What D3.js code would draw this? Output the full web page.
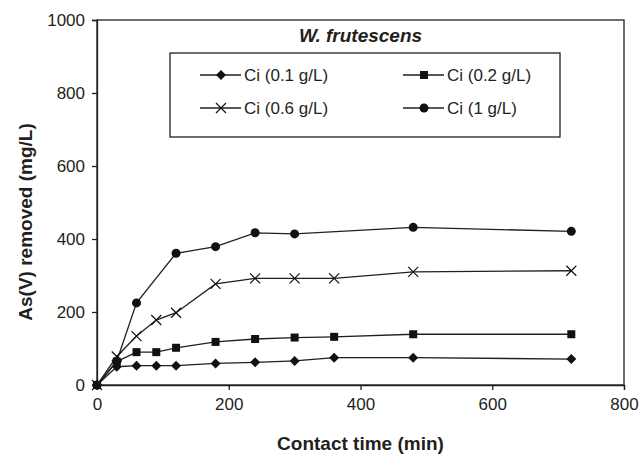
<!DOCTYPE html>
<html>
<head>
<meta charset="utf-8">
<script src="https://cdnjs.cloudflare.com/ajax/libs/d3/7.8.5/d3.min.js"></script>
<style>
	body { margin: 0; background: #fff; }
	text { font-family: "Liberation Sans", Arial, sans-serif; fill: #231f20; }
</style>
</head>
<body>
<svg id="contactGraph"></svg>
<script>
// contact time (min) and As(V) removed (mg/L) for each initial concentration
var times     = [0, 30, 60, 90, 120, 180, 240, 300, 360, 480, 720];
var ci01      = [0, 50, 53, 53, 53, 59, 62, 66, 75, 75, 71];
var ci02      = [0, 64, 90, 90, 102, 118, 126, 130, 132, 139, 139];
var ci06      = [0, 78, 134, 178, 198, 277, 292, 292, 292, 310, 313];
var ci1Times  = [0, 30, 60, 120, 180, 240, 300, 480, 720];
var ci1       = [0, 65, 225, 361, 379, 417, 414, 432, 421];
var seriesNames = ["Ci (0.1 g/L)", "Ci (0.2 g/L)", "Ci (0.6 g/L)", "Ci (1 g/L)"];
var xTicks = [0, 200, 400, 600, 800];
var yTicks = [0, 200, 400, 600, 800, 1000];

class ContactGraph {
	constructor(width, height) {
		this.margin = { top: 20, right: 16, bottom: 70, left: 97 };
		this.width = width - this.margin.left - this.margin.right;
		this.height = height - this.margin.top - this.margin.bottom;

		this.svg = d3.select("#contactGraph")
			.attr("width", width)
			.attr("height", height);
		this.container = this.svg.append("g")
			.attr("transform", "translate(" + this.margin.left + "," + this.margin.top + ")");

		this.xScale = d3.scaleLinear().domain([0, 800]).range([0, this.width]);
		this.yScale = d3.scaleLinear().domain([0, 1000]).range([this.height, 0]);

		this.series = [
			{ name: seriesNames[0], marker: "diamond", x: times, y: ci01 },
			{ name: seriesNames[1], marker: "square",  x: times, y: ci02 },
			{ name: seriesNames[2], marker: "cross",   x: times, y: ci06 },
			{ name: seriesNames[3], marker: "circle",  x: ci1Times, y: ci1 }
		];
	}

	drawAxis() {
		// plot area frame
		this.container.append("rect")
			.attr("width", this.width)
			.attr("height", this.height)
			.attr("fill", "none")
			.attr("stroke", "#231f20")
			.attr("stroke-width", 1.3);

		var xAxis = this.container.append("g")
			.attr("transform", "translate(0," + this.height + ")")
			.call(d3.axisBottom(this.xScale).tickValues(xTicks).tickFormat(d3.format("d")).tickSize(5).tickPadding(8));
		var yAxis = this.container.append("g")
			.call(d3.axisLeft(this.yScale).tickValues(yTicks).tickFormat(d3.format("d")).tickSize(5).tickPadding(7));

		[xAxis, yAxis].forEach(function(axis) {
			axis.selectAll("path").attr("stroke", "#231f20").attr("stroke-width", 1.3);
			axis.selectAll("line").attr("stroke", "#231f20").attr("stroke-width", 1.3);
			axis.selectAll("text")
				.attr("font-size", 17)
				.attr("font-family", "Liberation Sans, Arial, sans-serif")
				.attr("fill", "#231f20");
		});

		this.svg.append("text")
			.attr("x", this.margin.left + this.width / 2)
			.attr("y", 450)
			.attr("text-anchor", "middle")
			.attr("font-size", 19)
			.attr("font-weight", "bold")
			.text("Contact time (min)");

		this.svg.append("text")
			.attr("transform", "translate(32,222) rotate(-90)")
			.attr("text-anchor", "middle")
			.attr("font-size", 19)
			.attr("font-weight", "bold")
			.text("As(V) removed (mg/L)");

		this.svg.append("text")
			.attr("x", this.margin.left + this.width / 2)
			.attr("y", 42)
			.attr("text-anchor", "middle")
			.attr("font-size", 19)
			.attr("font-weight", "bold")
			.attr("font-style", "italic")
			.text("W. frutescens");
	}

	drawMarker(g, type, x, y) {
		if (type == "diamond") {
			g.append("path")
				.attr("d", "M" + x + "," + (y - 5) + "L" + (x + 5) + "," + y + "L" + x + "," + (y + 5) + "L" + (x - 5) + "," + y + "Z")
				.attr("fill", "#111");
		}
		else if (type == "square") {
			g.append("rect")
				.attr("x", x - 4).attr("y", y - 4)
				.attr("width", 8).attr("height", 8)
				.attr("fill", "#111");
		}
		else if (type == "cross") {
			g.append("path")
				.attr("d", "M" + (x - 5) + "," + (y - 5) + "L" + (x + 5) + "," + (y + 5) + "M" + (x - 5) + "," + (y + 5) + "L" + (x + 5) + "," + (y - 5))
				.attr("stroke", "#111")
				.attr("stroke-width", 1.2)
				.attr("fill", "none");
		}
		else {
			g.append("circle")
				.attr("cx", x).attr("cy", y)
				.attr("r", 4.5)
				.attr("fill", "#111");
		}
	}

	drawGraph() {
		this.drawAxis();

		var line = d3.line()
			.x(function(d) { return this.xScale(d[0]); }.bind(this))
			.y(function(d) { return this.yScale(d[1]); }.bind(this));

		this.series.forEach(function(s) {
			var points = s.x.map(function(t, i) { return [t, s.y[i]]; });
			var g = this.container.append("g");
			g.append("path")
				.datum(points)
				.attr("d", line)
				.attr("fill", "none")
				.attr("stroke", "#231f20")
				.attr("stroke-width", 1.3);
			points.forEach(function(p) {
				this.drawMarker(g, s.marker, this.xScale(p[0]), this.yScale(p[1]));
			}.bind(this));
		}.bind(this));

		this.drawLegend();
	}

	drawLegend() {
		var legend = this.svg.append("g");
		legend.append("rect")
			.attr("x", 170).attr("y", 53)
			.attr("width", 390).attr("height", 84)
			.attr("fill", "#fff")
			.attr("stroke", "#231f20")
			.attr("stroke-width", 1.3);

		var cols = [200, 403];
		var rows = [75, 108];
		this.series.forEach(function(s, i) {
			var lx = cols[i % 2];
			var ly = rows[Math.floor(i / 2)];
			legend.append("line")
				.attr("x1", lx).attr("x2", lx + 41)
				.attr("y1", ly).attr("y2", ly)
				.attr("stroke", "#231f20")
				.attr("stroke-width", 1.3);
			this.drawMarker(legend, s.marker, lx + 21, ly);
			legend.append("text")
				.attr("x", lx + 44)
				.attr("y", ly + 6)
				.attr("font-size", 17)
				.text(s.name);
		}.bind(this));
	}
}

var graph = new ContactGraph(640, 455);
graph.drawGraph();
</script>
</body>
</html>
